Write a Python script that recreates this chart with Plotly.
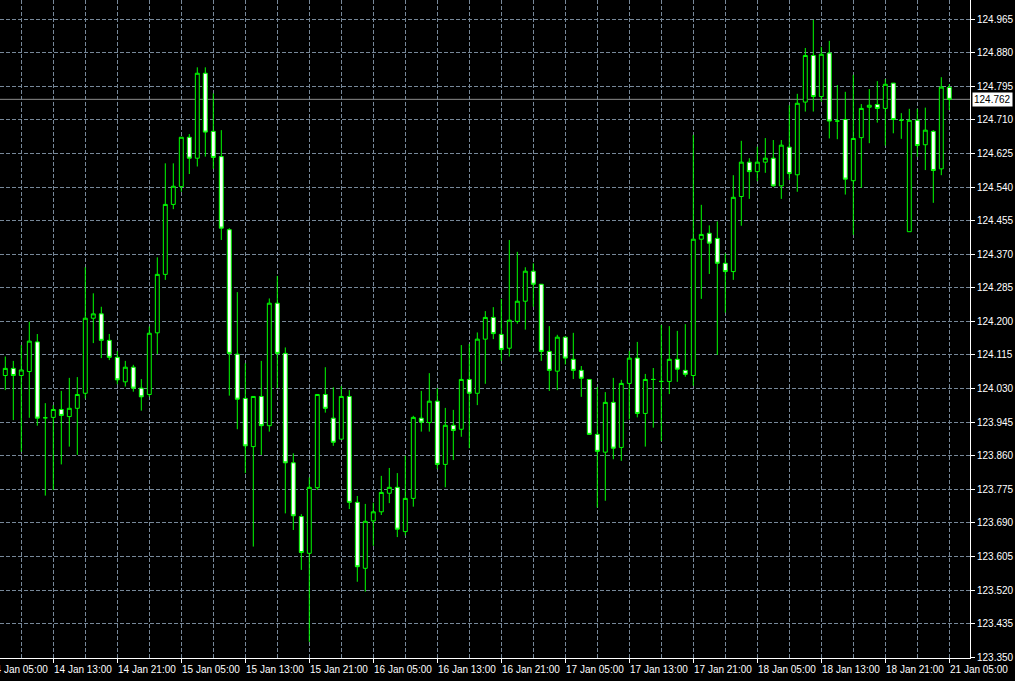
import plotly.graph_objects as go

# ---- data (hourly candles, 14 Jan 07:00 .. 21 Jan 05:00) ----
open_ = [124.063,124.081,124.063,124.073,124.148,123.956,123.957,123.977,123.959,123.980,
         124.018,124.208,124.219,124.152,124.109,124.047,124.084,124.031,124.015,124.171,
         124.319,124.496,124.541,124.666,124.613,124.828,124.681,124.617,124.432,124.117,
         124.005,123.883,124.010,123.936,124.246,124.119,123.842,123.706,123.613,123.779,
         124.015,123.955,123.902,124.010,123.742,123.575,123.695,123.718,123.765,123.780,
         123.668,123.752,123.955,123.944,123.998,123.838,123.937,123.927,124.053,124.018,
         124.155,124.210,124.167,124.132,124.200,124.251,124.327,124.294,124.124,124.074,
         124.160,124.104,124.076,124.053,123.914,123.869,123.995,123.881,124.043,124.107,
         123.967,124.053,124.048,124.048,124.104,124.076,124.063,124.408,124.423,124.410,
         124.347,124.326,124.516,124.603,124.579,124.603,124.613,124.543,124.641,124.571,
         124.755,124.873,124.769,124.879,124.707,124.711,124.556,124.665,124.742,124.749,
         124.739,124.803,124.709,124.427,124.709,124.647,124.681,124.586,124.792]
high = [124.111,124.100,124.140,124.199,124.168,123.993,123.988,124.024,124.057,124.059,
        124.337,124.271,124.237,124.168,124.125,124.100,124.090,124.054,124.187,124.362,
        124.600,124.600,124.666,124.674,124.843,124.843,124.777,124.684,124.436,124.274,
        124.094,124.010,124.100,124.258,124.315,124.134,123.866,123.712,123.805,124.015,
        124.084,124.033,124.036,124.026,123.758,123.738,123.741,123.809,123.829,123.816,
        123.860,123.961,124.024,124.069,124.031,123.981,123.976,124.140,124.143,124.172,
        124.226,124.236,124.257,124.406,124.376,124.337,124.347,124.294,124.188,124.166,
        124.161,124.171,124.087,124.053,124.034,124.021,124.057,124.052,124.125,124.148,
        124.067,124.082,124.191,124.188,124.176,124.193,124.672,124.495,124.443,124.453,
        124.372,124.570,124.657,124.613,124.642,124.664,124.659,124.659,124.747,124.776,
        124.892,124.963,124.895,124.910,124.798,124.781,124.824,124.750,124.788,124.808,
        124.813,124.803,124.727,124.738,124.738,124.741,124.684,124.818,124.800]
low = [124.026,123.950,123.870,123.956,123.936,123.759,123.773,123.838,123.883,123.862,
       124.005,124.145,124.107,124.102,124.041,124.035,124.022,123.974,124.009,124.117,
       124.305,124.484,124.528,124.573,124.592,124.617,124.586,124.406,124.012,123.927,
       123.816,123.630,123.862,123.921,124.031,123.714,123.672,123.571,123.389,123.773,
       123.969,123.885,123.902,123.725,123.541,123.516,123.632,123.710,123.740,123.654,
       123.658,123.731,123.921,123.921,123.826,123.780,123.849,123.908,123.879,123.988,
       124.042,124.155,124.100,124.111,124.194,124.179,124.237,124.100,124.024,124.026,
       124.091,124.054,124.009,123.914,123.729,123.746,123.851,123.847,123.952,123.957,
       123.883,123.931,123.897,124.016,124.047,124.060,124.037,124.257,124.320,124.115,
       124.222,124.305,124.442,124.510,124.555,124.576,124.541,124.510,124.558,124.528,
       124.731,124.731,124.756,124.663,124.661,124.521,124.419,124.538,124.651,124.703,
       124.645,124.676,124.662,124.427,124.617,124.583,124.500,124.570,124.735]
close = [124.081,124.063,124.077,124.150,123.955,123.956,123.977,123.962,123.980,124.015,
         124.208,124.219,124.152,124.109,124.052,124.084,124.031,124.009,124.170,124.319,
         124.496,124.542,124.666,124.613,124.828,124.679,124.615,124.436,124.119,124.003,
         123.885,124.010,123.936,124.246,124.119,123.842,123.708,123.615,123.780,124.015,
         123.980,123.894,124.010,123.742,123.579,123.694,123.718,123.767,123.780,123.674,
         123.752,123.957,123.945,123.998,123.838,123.937,123.924,124.053,124.018,124.155,
         124.210,124.169,124.129,124.203,124.251,124.327,124.294,124.124,124.076,124.160,
         124.107,124.076,124.056,123.914,123.871,123.995,123.879,124.043,124.107,123.967,
         124.053,124.053,124.048,124.104,124.079,124.066,124.408,124.420,124.398,124.347,
         124.326,124.514,124.603,124.579,124.603,124.613,124.543,124.646,124.574,124.752,
         124.873,124.769,124.876,124.707,124.707,124.560,124.663,124.739,124.747,124.739,
         124.800,124.711,124.709,124.709,124.645,124.684,124.582,124.793,124.762]

time_labels = ["14 Jan 05:00", "14 Jan 13:00", "14 Jan 21:00", "15 Jan 05:00",
               "15 Jan 13:00", "15 Jan 21:00", "16 Jan 05:00", "16 Jan 13:00",
               "16 Jan 21:00", "17 Jan 05:00", "17 Jan 13:00", "17 Jan 21:00",
               "18 Jan 05:00", "18 Jan 13:00", "18 Jan 21:00", "21 Jan 05:00"]
label_index = [-2 + 8 * k for k in range(len(time_labels))]   # candle index of each label
current_price = 124.762

# ---- styling ----
BG = "#000000"
LIME = "#00ff00"
GRID = "#778899"
FONT = "Liberation Sans"
x_idx = list(range(len(open_)))
x_range = [-0.6625, 120.5875]
y_range = [123.348, 125.0134]

fig = go.Figure()
fig.add_trace(go.Candlestick(
    x=x_idx, open=open_, high=high, low=low, close=close,
    increasing=dict(line=dict(color=LIME, width=1), fillcolor="#000000"),
    decreasing=dict(line=dict(color=LIME, width=1), fillcolor="#ffffff"),
    whiskerwidth=0, hoverinfo="skip", showlegend=False,
))

fig.add_shape(type="line", xref="paper", x0=0, x1=1, yref="y",
              y0=current_price, y1=current_price,
              line=dict(color="#8c8c8c", width=1), layer="below")

annotations = []
for lab, idx in zip(time_labels, label_index):
    frac = (idx - x_range[0]) / (x_range[1] - x_range[0])
    annotations.append(dict(text=lab, xref="paper", yref="paper", x=frac, y=0,
                            xanchor="left", yanchor="top", yshift=-4, xshift=-1,
                            showarrow=False, font=dict(family=FONT, size=10, color="#ffffff")))
annotations.append(dict(text=f"{current_price:.3f}", xref="paper", yref="y", x=1, y=current_price,
                        xanchor="left", yanchor="middle", xshift=2, showarrow=False,
                        bgcolor="#ffffff", borderpad=1,
                        font=dict(family=FONT, size=10, color="#000000")))

major_vals = [i for i in label_index if i >= 0]
minor_vals = [i + 4 for i in label_index if 0 <= i + 4 <= 120]

fig.update_layout(
    width=1015, height=681,
    margin=dict(l=0, r=45, t=0, b=23),
    paper_bgcolor=BG, plot_bgcolor=BG,
    font=dict(family=FONT, size=10, color="#ffffff"),
    annotations=annotations,
    xaxis=dict(range=x_range, rangeslider=dict(visible=False), showticklabels=False,
               tickmode="array", tickvals=major_vals, ticks="outside", ticklen=4,
               tickcolor="#ffffff", showgrid=True, gridcolor=GRID, griddash="4px,2px",
               gridwidth=1, zeroline=False, showline=True, linecolor="#ffffff", linewidth=1,
               minor=dict(tickmode="array", tickvals=minor_vals, showgrid=True,
                          gridcolor=GRID, griddash="4px,2px", ticks=""),
               automargin=False, fixedrange=True),
    yaxis=dict(range=y_range, side="right", tick0=123.35, dtick=0.085, tickformat=".3f",
               ticks="outside", ticklen=4, tickcolor="#ffffff",
               tickfont=dict(family=FONT, size=10, color="#ffffff"),
               showgrid=True, gridcolor=GRID, griddash="4px,2px", gridwidth=1,
               zeroline=False, showline=True, linecolor="#ffffff", linewidth=1,
               automargin=False, fixedrange=True),
)

fig.write_html("out.html",
               config={"displayModeBar": False},
               post_script="document.body.style.margin='0';document.body.style.overflow='hidden';")
